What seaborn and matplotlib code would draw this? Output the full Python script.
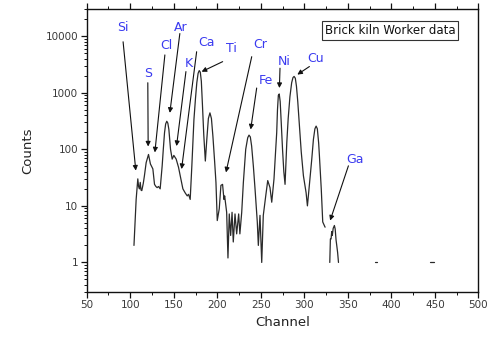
import numpy as np
import pandas as pd
import matplotlib
matplotlib.use("Agg")
import matplotlib.pyplot as plt
from matplotlib.ticker import MultipleLocator, LogLocator, NullFormatter, FixedLocator, FixedFormatter
import seaborn as sns

# ---- spectrum data (channel, counts) ----
main_channel = [104.3, 106.8, 108.7, 109.6, 110.6, 111.5, 112.4, 113.3, 115.0, 116.3,
                118.3, 121.0, 123.2, 126.0, 127.9, 129.5, 130.9, 132.5, 134.4, 136.7,
                138.0, 139.4, 140.7, 142.0, 143.2, 144.4, 146.3, 148.2, 150.1, 152.8,
                155.5, 157.8, 160.5, 163.1, 165.5, 167.0, 168.9, 170.8, 173.2, 175.0,
                176.5, 178.0, 179.3, 180.5, 181.7, 183.0, 184.5, 186.3, 188.0, 189.8,
                191.6, 193.3, 195.0, 197.0, 198.5, 200.0, 202.3, 204.2, 206.1, 207.7,
                208.5, 210.8, 212.3, 213.8, 215.4, 217.0, 218.4, 220.4, 222.3, 224.6,
                226.0, 228.1, 230.0, 232.7, 235.0, 236.5, 238.0, 239.5, 241.5, 243.4,
                246.0, 247.2, 249.1, 251.1, 252.9, 255.7, 258.0, 260.6, 262.6, 265.2,
                267.0, 268.3, 269.2, 270.2, 271.2, 272.3, 273.5, 275.0, 276.5, 277.9,
                279.9, 281.5, 283.5, 285.5, 287.0, 288.3, 289.7, 291.0, 292.5, 294.5,
                296.5, 299.0, 302.1, 303.6, 304.5, 306.5, 308.6, 310.5, 312.2, 313.6,
                315.0, 316.5, 317.4, 319.5, 321.2, 323.9]
main_counts = [2.0, 13, 30, 22, 20, 26, 19, 18.6, 25, 34,
               58, 81, 55, 45, 24, 22, 21, 22, 20, 51,
               100, 196, 280, 313, 290, 224, 100, 67, 78, 67,
               48, 32, 20, 17, 15, 16, 13, 51, 335, 800,
               1500, 2200, 2460, 2300, 1600, 600, 180, 62, 150, 350,
               440, 350, 170, 60, 26, 5.5, 8.9, 23, 24, 13,
               15, 7.7, 1.2, 7.2, 3.0, 7.7, 2.3, 7.2, 3.2, 7.2,
               3.2, 7.7, 26, 100, 160, 178, 165, 114, 50, 20,
               5.2, 2.0, 6.8, 1.0, 6.8, 15, 28, 21, 11.6, 30,
               90, 196, 500, 900, 950, 700, 300, 100, 40, 24,
               131, 350, 850, 1500, 1850, 1940, 1800, 1300, 700, 250,
               90, 34, 17, 10, 14, 30, 67, 150, 230, 257,
               230, 130, 76, 20, 5.2, 4.2]

ga_channel = [329.3, 330.0, 330.8, 331.5, 332.2, 333.2, 334.6, 335.5, 336.5, 337.3, 338.3, 339.3]
ga_counts = [1.0, 2.6, 2.6, 3.5, 3.0, 4.0, 4.5, 3.9, 2.5, 2.0, 1.5, 1.0]

tail_channel_a = [381.5, 383.7]
tail_counts_a = [1.0, 1.0]
tail_channel_b = [444.0, 448.6]
tail_counts_b = [1.0, 1.0]

# ---- element labels ----
elements = ["Si", "S", "Cl", "Ar", "Ca", "K", "Ti", "Cr", "Fe", "Ni", "Cu", "Ga"]

# label placement: text centre, arrow tail, arrow head (data coordinates)
label_xy = [(91.4, 14400), (120.2, 2150), (141.7, 6750), (158.2, 14100), (188.1, 7700),
            (167.2, 3250), (216.5, 6160), (249.1, 7240), (255.3, 1630), (277.1, 3540),
            (313.0, 4100), (357.9, 67)]
arrow_tail = [(91.8, 7940), (120.2, 1500), (139.8, 4650), (157.0, 11100), (176.3, 5300),
              (164.0, 2360), (206.2, 3540), (239.6, 4330), (245.3, 1210), (272.1, 2710),
              (305.9, 2900), (350.7, 51)]
arrow_head = [(106.4, 42), (120.6, 112), (128.3, 88), (145.5, 440), (159.0, 44.7),
              (153.2, 114), (182.0, 2350), (210.0, 39), (238.4, 224), (271.4, 1210),
              (292.0, 2090), (329.7, 5.5)]

segments = [(main_channel, main_counts), (ga_channel, ga_counts),
            (tail_channel_a, tail_counts_a), (tail_channel_b, tail_counts_b)]
df = pd.concat([pd.DataFrame({"Channel": c, "Counts": v, "segment": i})
                for i, (c, v) in enumerate(segments)], ignore_index=True)

sns.set_style("ticks")
plt.rcParams["font.family"] = ["DejaVu Sans"]

fig = plt.figure(figsize=(4.88, 3.38), dpi=100)
ax = fig.add_axes([0.1777, 0.136, 0.8025, 0.837])

sns.lineplot(data=df, x="Channel", y="Counts", units="segment", estimator=None,
             sort=False, color="#2a2a2a", linewidth=0.9, ax=ax)

ax.set_yscale("log")
ax.set_xlim(50, 500)
ax.set_ylim(0.3, 30000)

ax.xaxis.set_major_locator(MultipleLocator(50))
ax.xaxis.set_minor_locator(MultipleLocator(25))
ax.yaxis.set_major_locator(FixedLocator([1, 10, 100, 1000, 10000]))
ax.yaxis.set_major_formatter(FixedFormatter(["1", "10", "100", "1000", "10000"]))
ax.yaxis.set_minor_locator(LogLocator(base=10, subs=np.arange(2, 10)))
ax.yaxis.set_minor_formatter(NullFormatter())

ax.tick_params(axis="both", which="major", direction="out", length=4, width=0.9,
               labelsize=7.5, labelcolor="#3a3a3a", color="#111111", pad=2)
ax.tick_params(axis="both", which="minor", direction="out", length=2, width=0.7,
               color="#111111")
ax.tick_params(axis="x", which="both", top=True)
ax.tick_params(axis="y", which="both", right=False)

for s in ax.spines.values():
    s.set_visible(True)
    s.set_linewidth(1.0)
    s.set_color("#111111")

ax.set_xlabel("Channel", fontsize=9.5, color="#222222", labelpad=4)
ax.set_ylabel("Counts", fontsize=9.5, color="#222222", labelpad=8)

for name, (tx, ty), tail, head in zip(elements, label_xy, arrow_tail, arrow_head):
    ax.text(tx, ty, name, color="#3a3af0", fontsize=9, ha="center", va="center")
    ax.annotate("", xy=head, xytext=tail,
                arrowprops=dict(arrowstyle="-|>", color="#111111", lw=0.8,
                                mutation_scale=7, shrinkA=0, shrinkB=0))

ax.text(0.775, 0.924, "Brick kiln Worker data", transform=ax.transAxes,
        ha="center", va="center", fontsize=8.5, color="#111111",
        bbox=dict(boxstyle="square,pad=0.25", facecolor="white", edgecolor="#333333",
                  linewidth=0.8))

fig.savefig("out.png", dpi=100, facecolor="white")
